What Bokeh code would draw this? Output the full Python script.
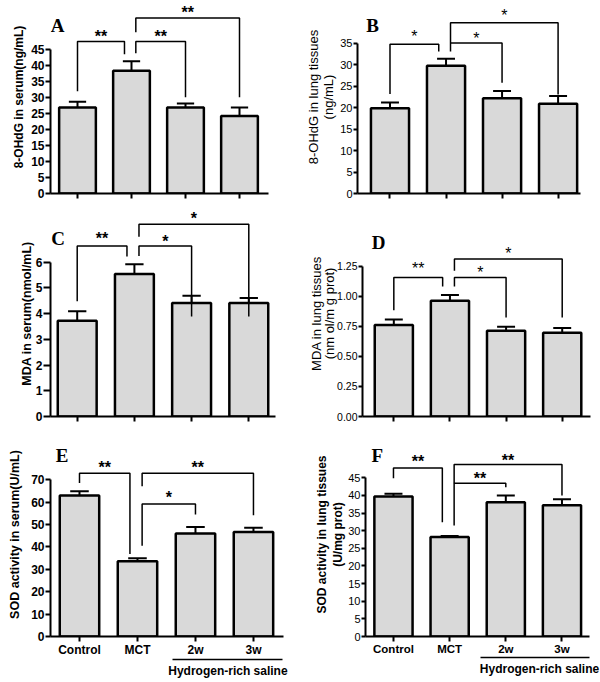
from bokeh.plotting import figure
from bokeh.models import Range1d, FixedTicker, LinearAxis, NumeralTickFormatter
from bokeh.layouts import column, row
from bokeh.embed import file_html
from bokeh.resources import INLINE
from bokeh.core.properties import value

# ---------------- data ----------------
categories = ["Control", "MCT", "2w", "3w"]
group_label = "Hydrogen-rich saline"

a_mean = [26.8, 38.3, 26.8, 24.2]
a_err = [1.8, 2.9, 1.3, 2.6]
b_mean = [19.9, 29.8, 22.2, 20.9]
b_err = [1.3, 1.6, 1.7, 1.8]
c_mean = [3.72, 5.54, 4.41, 4.41]
c_err = [0.37, 0.38, 0.29, 0.20]
d_mean = [0.760, 0.962, 0.712, 0.696]
d_err = [0.046, 0.047, 0.034, 0.039]
e_mean = [62.9, 33.6, 46.0, 46.6]
e_err = [1.9, 1.3, 2.9, 2.0]
f_mean = [39.7, 28.2, 38.1, 37.2]
f_err = [0.8, 0.3, 1.9, 1.7]

a_ticks = [0, 5, 10, 15, 20, 25, 30, 35, 40, 45]
b_ticks = [0, 5, 10, 15, 20, 25, 30, 35]
c_ticks = [0, 1, 2, 3, 4, 5, 6]
d_ticks = [0.0, 0.25, 0.5, 0.75, 1.0, 1.25]
e_ticks = [0, 10, 20, 30, 40, 50, 60, 70]
f_ticks = [0, 5, 10, 15, 20, 25, 30, 35, 40, 45]

a_ylabel = "8-OHdG in serum(ng/mL)"
b_ylabel = "8-OHdG in lung tissues\n(ng/mL)"
c_ylabel = "MDA in serum(nmol/mL)"
d_ylabel = "MDA in lung tissues\n(nm ol/m g prot)"
e_ylabel = "SOD activity in serum(U/mL)"
f_ylabel = "SOD activity in lung tissues\n(U/mg prot)"

# significance brackets: (from, to, left leg bottom, top, right leg bottom, star y, mark)
a_brackets = [(0, 1, 31.9, 47.4, 43.4, 49.9, "**"),
              (1, 2, 43.7, 47.4, 30.0, 49.9, "**"),
              (1, 3, 50.3, 54.7, 30.0, 57.4, "**")]
b_brackets = [(0, 1, 23.2, 34.8, 33.1, 37.3, "*"),
              (1, 2, 33.1, 35.1, 25.8, 36.9, "*"),
              (1, 3, 35.1, 39.8, 23.1, 42.3, "*")]
c_brackets = [(0, 1, 4.48, 6.63, 6.22, 7.02, "**"),
              (1, 2, 6.24, 6.63, 3.89, 6.93, "*"),
              (1, 3, 6.99, 7.48, 3.89, 7.83, "*")]
d_brackets = [(0, 1, 0.884, 1.155, 1.081, 1.253, "**"),
              (1, 2, 1.081, 1.155, 0.823, 1.219, "*"),
              (1, 3, 1.211, 1.308, 0.823, 1.383, "*")]
e_brackets = [(0, 1, 68.5, 72.9, 36.8, 76.6, "**"),
              (1, 2, 40.5, 59.2, 54.5, 63.4, "*"),
              (1, 3, 67.1, 72.9, 54.1, 76.6, "**")]
f_brackets = [(0, 1, 44.9, 47.8, 32.4, 50.4, "**"),
              (1, 2, 31.5, 43.5, 42.3, 45.7, "**"),
              (1, 3, 43.5, 48.8, 40.0, 50.9, "**")]

SANS = "Liberation Sans"
SERIF = "Liberation Serif"


def make_panel(mean, err, brackets, ticks, ylabel, letter, letter_xy, geo, sty,
               show_x=False, group=None):
    W, H, L, R, T, B, xs, xe, ye = geo
    p = figure(width=W, height=H, output_backend="svg", toolbar_location=None,
               x_range=Range1d(xs, xe), y_range=Range1d(0, ye),
               min_border_left=L, min_border_right=R,
               min_border_top=T, min_border_bottom=B)
    p.xgrid.visible = False
    p.ygrid.visible = False
    p.outline_line_color = None
    idx = list(range(len(categories)))

    p.vbar(x=idx, top=mean, bottom=0, width=0.68, fill_color="#d9d9d9",
           line_color="black", line_width=2.5)
    tops = [m + e for m, e in zip(mean, err)]
    p.segment(x0=idx, y0=mean, x1=idx, y1=tops, line_color="black", line_width=2)
    p.segment(x0=[i - 0.16 for i in idx], y0=tops, x1=[i + 0.16 for i in idx],
              y1=tops, line_color="black", line_width=2)

    bx, by, sx, sy, st = [], [], [], [], []
    for (i, j, yl, yt, yr, ys, mark) in brackets:
        xl = i + (0.08 if i == 1 else 0.0)
        xr = j + (-0.13 if j == 1 else 0.0)
        bx.append([xl, xl, xr, xr])
        by.append([yl, yt, yt, yr])
        sx.append((xl + xr) / 2)
        sy.append(ys)
        st.append(mark)
    p.multi_line(xs=bx, ys=by, line_color="black", line_width=1.5)
    p.text(x=sx, y=sy, text=st, text_align="center", text_baseline="middle",
           text_font=value(SANS), text_font_size="16px",
           text_font_style=sty["star"], y_offset=3, text_color="black")

    p.text(x=[letter_xy[0]], y=[letter_xy[1]], text=[letter], text_align="center",
           text_baseline="middle", text_font=value(SERIF), text_font_size="19px",
           text_font_style="bold", text_color="black")

    # y axis
    ya = p.yaxis[0]
    ya.ticker = FixedTicker(ticks=ticks)
    ya.bounds = (0, ticks[-1])
    ya.axis_label = ylabel
    ya.axis_label_text_font = SANS
    ya.axis_label_text_font_size = sty["ylab_size"]
    ya.axis_label_text_font_style = sty["ylab_style"]
    ya.axis_label_standoff = sty["ylab_standoff"]
    ya.axis_label_text_line_height = sty.get("ylab_lh", 1.2)
    ya.axis_label_text_color = "black"
    ya.major_label_text_font = SANS
    ya.major_label_text_font_size = sty["tick_size"]
    ya.major_label_text_font_style = sty["tick_style"]
    ya.major_label_text_color = "black"
    ya.major_label_standoff = 1
    ya.major_tick_out = sty["tick_out"]
    ya.major_tick_in = 0
    ya.major_tick_line_width = 2
    ya.minor_tick_line_color = None
    ya.axis_line_width = 2
    if "fmt" in sty:
        ya.formatter = NumeralTickFormatter(format=sty["fmt"])

    # x axis
    xa = p.xaxis[0]
    xa.ticker = FixedTicker(ticks=idx)
    xa.major_tick_out = 5
    xa.major_tick_in = 0
    xa.major_tick_line_width = 2
    xa.minor_tick_line_color = None
    xa.axis_line_width = 2
    if show_x:
        xa.major_label_overrides = {i: c for i, c in zip(idx, categories)}
        xa.major_label_text_font = SANS
        xa.major_label_text_font_size = sty["xlab_size"]
        xa.major_label_text_font_style = "bold"
        xa.major_label_text_color = "black"
        xa.major_label_standoff = 1
    else:
        xa.major_label_overrides = {i: "" for i in idx}
        xa.major_label_text_font_size = "8px"
        xa.major_label_text_color = None
        xa.major_label_standoff = 0

    if group is not None:
        gx0, gx1, gmid = group
        gax = LinearAxis(bounds=(gx0, gx1), ticker=FixedTicker(ticks=[gmid]),
                         major_label_overrides={gmid: group_label},
                         major_label_standoff=4,
                         major_label_text_font=SANS,
                         major_label_text_font_size=sty["glab_size"],
                         major_label_text_font_style="bold",
                         major_label_text_color="black",
                         major_tick_out=0, major_tick_in=0,
                         major_tick_line_color=None, minor_tick_line_color=None,
                         axis_line_width=1.5)
        p.add_layout(gax, "below")
    return p


left_sty = dict(star="bold", ylab_size="12px", ylab_style="bold", ylab_standoff=2,
                tick_size="12px", tick_style="bold", xlab_size="12px", tick_out=5,
                glab_size="12px")
right_sty = dict(star="normal", ylab_size="13px", ylab_style="normal", ylab_standoff=1,
                 tick_size="11px", tick_style="normal", xlab_size="11.5px", tick_out=4,
                 glab_size="12px")

pA = make_panel(a_mean, a_err, a_brackets, a_ticks, a_ylabel, "A", (-0.37, 52.5),
                (300, 210, 50, 32, 0, 17, -0.5, 3.537, 60.18), left_sty)
pB = make_panel(b_mean, b_err, b_brackets, b_ticks, b_ylabel, "B", (-0.31, 39.2),
                (300, 210, 57, 20, 0, 15, -0.58, 3.40, 44.99),
                dict(right_sty, ylab_lh=1.0))
pC = make_panel(c_mean, c_err, c_brackets, c_ticks, c_ylabel, "C", (-0.335, 6.93),
                (300, 222, 50, 25, 0, 15, -0.467, 3.467, 8.01),
                dict(left_sty, ylab_size="12.5px", ylab_standoff=-1, tick_out=7))
pD = make_panel(d_mean, d_err, d_brackets, d_ticks, d_ylabel, "D", (-0.27, 1.446),
                (300, 222, 62, 10, 0, 16, -0.558, 3.504, 1.712),
                dict(right_sty, fmt="0.00", ylab_size="13px", ylab_lh=0.9,
                     tick_size="10.5px", ylab_standoff=-3))
pE = make_panel(e_mean, e_err, e_brackets, e_ticks, e_ylabel, "E", (-0.30, 81.0),
                (300, 250, 50, 17, 0, 44, -0.50, 3.518, 91.07),
                dict(left_sty, ylab_size="12.5px", ylab_standoff=6), show_x=True,
                group=(1.60, 3.50, 2.56))
pF = make_panel(f_mean, f_err, f_brackets, f_ticks, f_ylabel, "F", (-0.29, 51.3),
                (300, 250, 65, 11, 0, 46, -0.498, 3.49, 57.86),
                dict(right_sty, ylab_style="bold", ylab_size="12px", star="bold",
                     ylab_standoff=0, ylab_lh=1.15),
                show_x=True, group=(1.55, 3.505, 2.6))

layout = column(row(pA, pB), row(pC, pD), row(pE, pF))
open("out.html", "w").write(file_html(layout, INLINE))
